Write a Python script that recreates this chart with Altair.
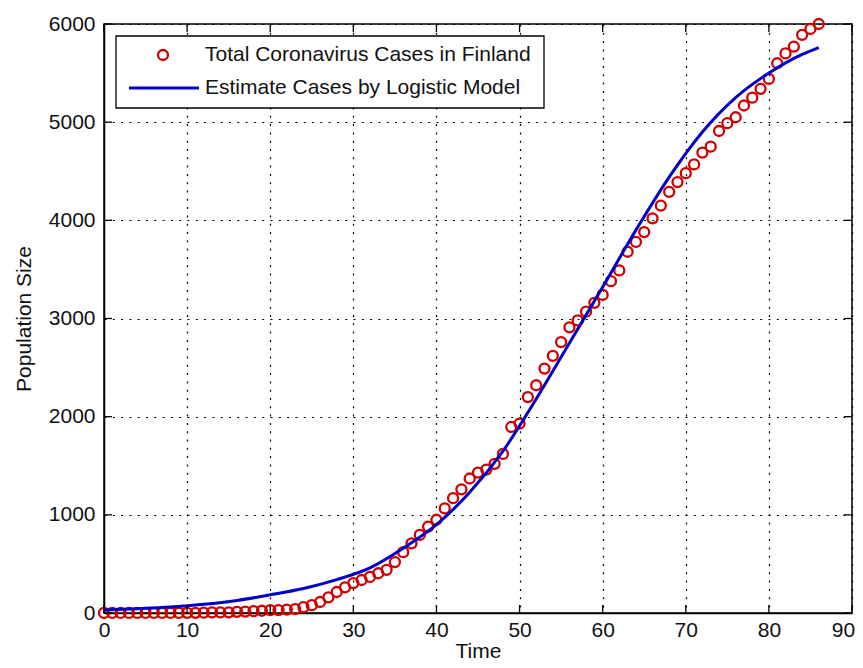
import altair as alt
import pandas as pd

# ---- data ----
days = list(range(87))
cases = [1, 1, 1, 1, 1, 1, 1, 1, 1, 1,
         2, 2, 3, 6, 6, 7, 12, 15, 19, 23,
         30, 30, 35, 40, 59, 80, 112, 160, 214, 262,
         305, 336, 367, 405, 440, 519, 620, 710, 795, 880,
         950, 1065, 1170, 1260, 1370, 1430, 1460, 1520, 1620, 1895,
         1930, 2200, 2320, 2490, 2620, 2760, 2910, 2980, 3070, 3160,
         3240, 3380, 3490, 3680, 3780, 3880, 4020, 4150, 4290, 4390,
         4480, 4570, 4690, 4750, 4910, 4990, 5050, 5170, 5250, 5340,
         5440, 5600, 5700, 5770, 5890, 5950, 6000]
model_days = [0, 4, 8, 12, 16, 20, 24, 28, 32, 36, 40, 44, 48, 52, 56, 60,
              64, 68, 72, 76, 80, 84, 86]
model_vals = [30, 43, 60, 88, 128, 185, 250, 340, 460, 660, 900, 1230, 1650,
              2180, 2750, 3320, 3900, 4440, 4900, 5250, 5500, 5690, 5760]
x_ticks = list(range(0, 91, 10))
y_ticks = list(range(0, 6001, 1000))
legend_labels = ["Total Coronavirus Cases in Finland",
                 "Estimate Cases by Logistic Model"]

# ---- style ----
W, H = 748, 589
FONT = "Liberation Sans"
RED = "#D00000"
BLUE = "#0000C8"
TXT = "#111111"
TICK = 8

obs = pd.DataFrame({"Time": days, "Cases": cases})
model = pd.DataFrame({"Time": model_days, "Cases": model_vals})
xt = pd.DataFrame({"Time": x_ticks})
yt = pd.DataFrame({"Cases": y_ticks})
one = pd.DataFrame({"a": [0]})

xscale = alt.Scale(domain=[0, 90], nice=False, zero=False)
yscale = alt.Scale(domain=[0, 6000], nice=False)

xaxis = alt.Axis(values=x_ticks, title="Time", grid=True, gridDash=[2, 6.3],
                 gridColor="black", gridWidth=1.2, tickSize=0,
                 labelFont=FONT, labelFontSize=21, labelColor=TXT,
                 labelPadding=6, labelFlush=False, format="d",
                 labelOffset={"condition": {"test": "datum.value == 90",
                                            "value": -9},
                              "value": 0},
                 titleFont=FONT, titleFontSize=21, titleFontWeight="normal",
                 titleColor=TXT, titlePadding=0,
                 domainColor="black", domainWidth=1.5)
yaxis = alt.Axis(values=y_ticks, title="Population Size", grid=True,
                 gridDash=[2, 6.3], gridColor="black", gridWidth=1.2,
                 tickSize=0, labelFont=FONT, labelFontSize=21, labelColor=TXT,
                 labelPadding=9, labelFlush=False, format="d",
                 titleFont=FONT, titleFontSize=21, titleFontWeight="normal",
                 titleColor=TXT, titlePadding=14,
                 domainColor="black", domainWidth=1.5)

X = alt.X("Time:Q", scale=xscale, axis=xaxis)
Y = alt.Y("Cases:Q", scale=yscale, axis=yaxis)

points = alt.Chart(obs).mark_point(
    shape="circle", filled=False, size=100, strokeWidth=2.3, color=RED,
    opacity=1
).encode(x=X, y=Y)

line = alt.Chart(model).mark_line(
    color=BLUE, strokeWidth=3, interpolate="monotone"
).encode(x=X, y=Y)

tick_style = dict(color="black", strokeWidth=1.3)
bottom_ticks = alt.Chart(xt).mark_rule(**tick_style).encode(
    x=X, y=alt.value(H), y2=alt.value(H - TICK))
top_ticks = alt.Chart(xt).mark_rule(**tick_style).encode(
    x=X, y=alt.value(0), y2=alt.value(TICK))
left_ticks = alt.Chart(yt).mark_rule(**tick_style).encode(
    y=Y, x=alt.value(0), x2=alt.value(TICK))
right_ticks = alt.Chart(yt).mark_rule(**tick_style).encode(
    y=Y, x=alt.value(W), x2=alt.value(W - TICK))

# ---- legend (upper-left box) ----
leg_box = alt.Chart(one).mark_rect(
    fill="white", stroke="black", strokeWidth=1.3
).encode(x=alt.value(12), x2=alt.value(440), y=alt.value(12), y2=alt.value(84))
leg_pt = alt.Chart(one).mark_point(
    shape="circle", filled=False, size=100, strokeWidth=2.3, color=RED,
    opacity=1
).encode(x=alt.value(59), y=alt.value(31))
leg_ln = alt.Chart(one).mark_rule(color=BLUE, strokeWidth=3).encode(
    x=alt.value(25), x2=alt.value(95), y=alt.value(64))
leg_t1 = alt.Chart(one).mark_text(
    align="left", baseline="middle", font=FONT, fontSize=21, color=TXT
).encode(x=alt.value(101), y=alt.value(31), text=alt.value(legend_labels[0]))
leg_t2 = alt.Chart(one).mark_text(
    align="left", baseline="middle", font=FONT, fontSize=21, color=TXT
).encode(x=alt.value(101), y=alt.value(64), text=alt.value(legend_labels[1]))

chart = alt.layer(
    points, line, bottom_ticks, top_ticks, left_ticks, right_ticks,
    leg_box, leg_pt, leg_ln, leg_t1, leg_t2
).properties(
    width=W, height=H,
    autosize=alt.AutoSizeParams(type="none"),
    padding={"left": 96, "top": 16, "right": 3, "bottom": 47},
    background="white",
).configure_view(
    stroke="black", strokeWidth=1.5, fill="white"
)

chart.save("out.html", embed_options={"renderer": "svg", "actions": False})
